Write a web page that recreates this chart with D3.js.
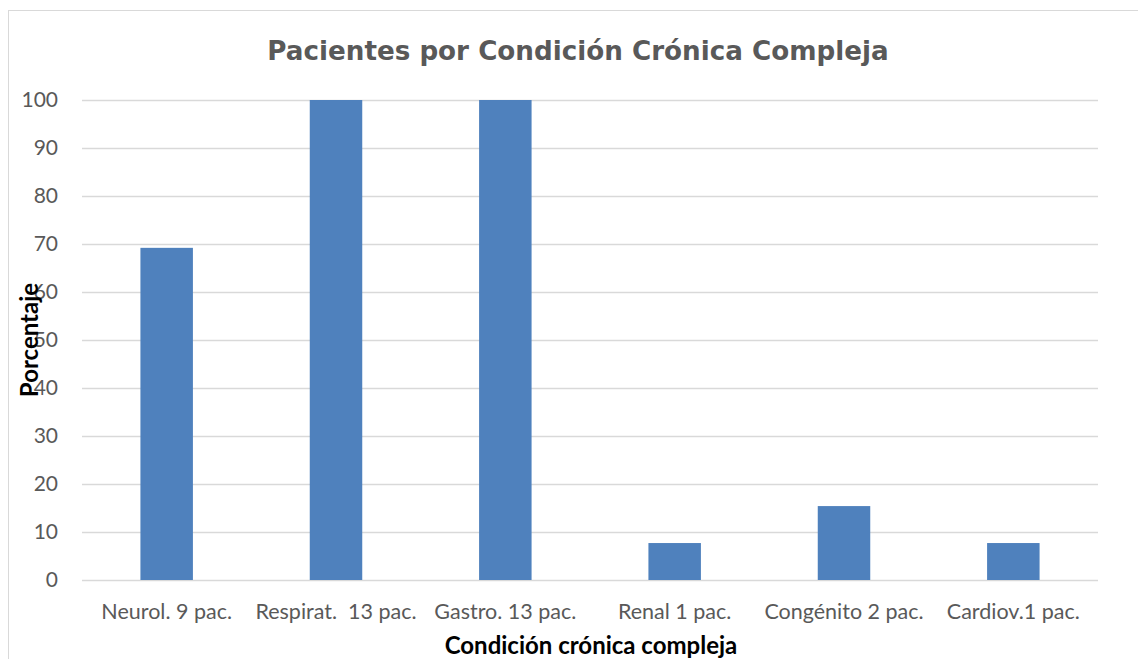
<!DOCTYPE html>
<html>
<head>
<meta charset="utf-8">
<script src="https://cdn.jsdelivr.net/npm/d3@7"></script>
<style>
  body { margin: 0; background: #fff; }
  svg { display: block; }
</style>
</head>
<body>
<svg id="chart"></svg>
<script>
// Chart data
const categories = ["Neurol. 9 pac.", "Respirat.  13 pac.", "Gastro. 13 pac.", "Renal 1 pac.", "Congénito 2 pac.", "Cardiov.1 pac."];
const percentages = [69.2, 100, 100, 7.7, 15.4, 7.7];
const yTicks = [0, 10, 20, 30, 40, 50, 60, 70, 80, 90, 100];
const titleText = "Pacientes por Condición Crónica Compleja";
const xTitle = "Condición crónica compleja";
const yTitle = "Porcentaje";

const width = 1138;
const height = 659;
const margin = { top: 100, right: 40, bottom: 79, left: 82 };

const svg = d3.select("#chart")
  .attr("width", width)
  .attr("height", height);

// outer chart border (right and bottom edges run off the page)
svg.append("rect")
  .attr("x", 8.5)
  .attr("y", 10.5)
  .attr("width", width)
  .attr("height", height)
  .attr("fill", "none")
  .attr("stroke", "#d9d9d9");

const x = d3.scaleBand()
  .domain(categories)
  .range([margin.left, width - margin.right])
  .paddingInner(0.69)
  .paddingOuter(0.345);

const y = d3.scaleLinear()
  .domain([0, 100])
  .range([height - margin.bottom, margin.top]);

// Gridlines
svg.append("g")
  .selectAll("line")
  .data(yTicks)
  .join("line")
  .attr("x1", margin.left)
  .attr("x2", width - margin.right)
  .attr("y1", d => Math.round(y(d)) + 0.5)
  .attr("y2", d => Math.round(y(d)) + 0.5)
  .attr("stroke", "#d9d9d9")
  .attr("stroke-width", 1.3);

// Y axis tick labels
const yAxis = d3.axisLeft(y).tickValues(yTicks).tickSize(0).tickPadding(0);
svg.append("g")
  .attr("transform", `translate(58,0)`)
  .call(yAxis)
  .call(g => g.select(".domain").remove())
  .selectAll("text")
  .attr("font-family", "Lato, sans-serif")
  .attr("font-size", 21)
  .attr("fill", "#595959");

// Bars
svg.append("g")
  .selectAll("rect")
  .data(percentages)
  .join("rect")
  .attr("x", (d, i) => x(categories[i]))
  .attr("y", d => y(d))
  .attr("width", x.bandwidth())
  .attr("height", d => y(0) - y(d))
  .attr("fill", "#4f81bd");

// X axis labels
const xAxis = d3.axisBottom(x).tickSize(0).tickPadding(0);
svg.append("g")
  .attr("transform", `translate(0,${height - margin.bottom + 24})`)
  .call(xAxis)
  .call(g => g.select(".domain").remove())
  .selectAll("text")
  .attr("font-family", "Lato, sans-serif")
  .attr("font-size", 21.5)
  .attr("fill", "#595959")
  .style("white-space", "pre")
  .attr("xml:space", "preserve");

// Title
svg.append("text")
  .attr("x", 578)
  .attr("y", 60)
  .attr("text-anchor", "middle")
  .attr("font-family", "'DejaVu Sans', Verdana, sans-serif")
  .attr("font-weight", "bold")
  .attr("font-size", 26.2)
  .attr("fill", "#595959")
  .text(titleText);

// X axis title
svg.append("text")
  .attr("x", 591)
  .attr("y", 654)
  .attr("text-anchor", "middle")
  .attr("font-family", "Lato, sans-serif")
  .attr("font-weight", "bold")
  .attr("font-size", 24)
  .attr("fill", "#000")
  .text(xTitle);

// Y axis title
svg.append("text")
  .attr("transform", "translate(38,340) rotate(-90)")
  .attr("text-anchor", "middle")
  .attr("font-family", "Lato, sans-serif")
  .attr("font-weight", "bold")
  .attr("font-size", 24)
  .attr("fill", "#000")
  .text(yTitle);
</script>
</body>
</html>
